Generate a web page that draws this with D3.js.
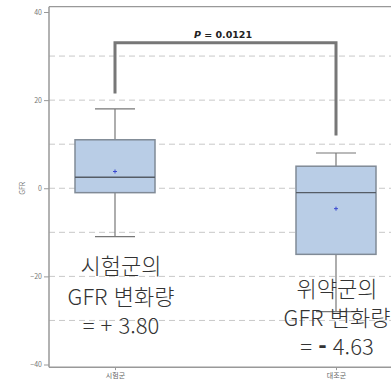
<!DOCTYPE html>
<html lang="ko">
<head>
  <meta charset="UTF-8">
  <script src="https://cdn.jsdelivr.net/npm/d3@7"></script>
  <style>
    body { margin: 0; background: #fff; }
    svg { display: block; }
    .ann { font-family: "Noto Sans CJK KR", "Noto Sans", sans-serif; font-weight: 300; fill: #333; }
    .small { font-family: "Noto Sans CJK KR", "DejaVu Sans", sans-serif; fill: #666; }
  </style>
</head>
<body>
  <svg id="chart"></svg>
  <script>
    // ---- data ----
    const groups = ["시험군", "대조군"];
    const whiskerHigh = [18, 8];
    const q3 = [11, 5];
    const medians = [2.5, -1];
    const q1 = [-1, -15];
    const whiskerLow = [-11, -28];
    const means = [3.8, -4.63];
    const yTicks = [40, 20, 0, -20, -40];
    const gridVals = [30, 20, 10, 0, -10, -20, -30];
    const annLines = [
      ["시험군의", "GFR 변화량", "= + 3.80"],
      ["위약군의", "GFR 변화량", "= - 4.63"]
    ];

    const width = 391, height = 381;
    const svg = d3.select("#chart").attr("width", width).attr("height", height);

    const left = 49, right = 400;
    const y = d3.scaleLinear().domain([-40, 40]).range([364.5, 12]);
    const x = d3.scalePoint().domain(groups).range([115, 336]);
    const boxW = 80, capW = 40;

    // gridlines
    svg.append("g").selectAll("line").data(gridVals).join("line")
      .attr("x1", left).attr("x2", right)
      .attr("y1", d => y(d)).attr("y2", d => y(d))
      .attr("stroke", "#c8c8c8").attr("stroke-width", 1)
      .attr("stroke-dasharray", "6,4");

    // frame top
    svg.append("line")
      .attr("x1", left).attr("x2", right)
      .attr("y1", y(41.2)).attr("y2", y(41.2))
      .attr("stroke", "#999").attr("stroke-width", 1.2);

    // y axis
    const yAxis = svg.append("g")
      .attr("transform", `translate(${left},0)`)
      .call(d3.axisLeft(y).tickValues(yTicks).tickSize(5).tickPadding(2));
    yAxis.select(".domain").remove();
    yAxis.selectAll(".tick line").attr("stroke", "#999");
    yAxis.selectAll("text").attr("class", "small").style("font-size", "7px").style("fill", "#777");
    svg.append("line")
      .attr("x1", left).attr("x2", left)
      .attr("y1", y(41.2)).attr("y2", y(-40.6))
      .attr("stroke", "#999").attr("stroke-width", 1.5);

    // x axis
    const xAxis = svg.append("g")
      .attr("transform", `translate(0,${y(-40.6)})`)
      .call(d3.axisBottom(x).tickSize(3).tickPadding(3));
    xAxis.select(".domain").remove();
    xAxis.selectAll(".tick line").attr("stroke", "#999");
    xAxis.selectAll("text").attr("class", "small").style("font-size", "7px").style("fill", "#666");
    svg.append("line")
      .attr("x1", left).attr("x2", right)
      .attr("y1", y(-40.6)).attr("y2", y(-40.6))
      .attr("stroke", "#999").attr("stroke-width", 1.5);

    // y label
    svg.append("text").attr("class", "small")
      .attr("transform", `translate(25,${y(0)}) rotate(-90)`)
      .attr("text-anchor", "middle")
      .style("font-size", "7px").style("fill", "#777")
      .text("GFR");

    // boxes
    const g = svg.append("g").selectAll("g").data(groups).join("g");
    g.append("line")
      .attr("x1", d => x(d)).attr("x2", d => x(d))
      .attr("y1", (d, i) => y(whiskerHigh[i])).attr("y2", (d, i) => y(q3[i]))
      .attr("stroke", "#777").attr("stroke-width", 1.2);
    g.append("line")
      .attr("x1", d => x(d)).attr("x2", d => x(d))
      .attr("y1", (d, i) => y(q1[i])).attr("y2", (d, i) => y(whiskerLow[i]))
      .attr("stroke", "#777").attr("stroke-width", 1.2);
    g.selectAll(".cap").data((d, i) => [[d, whiskerHigh[i]], [d, whiskerLow[i]]]).join("line")
      .attr("x1", d => x(d[0]) - capW / 2).attr("x2", d => x(d[0]) + capW / 2)
      .attr("y1", d => y(d[1])).attr("y2", d => y(d[1]))
      .attr("stroke", "#777").attr("stroke-width", 1.2);
    g.append("rect")
      .attr("x", d => x(d) - boxW / 2).attr("width", boxW)
      .attr("y", (d, i) => y(q3[i])).attr("height", (d, i) => y(q1[i]) - y(q3[i]))
      .attr("fill", "#b9cde6").attr("stroke", "#808a96").attr("stroke-width", 1.5);
    g.append("line")
      .attr("x1", d => x(d) - boxW / 2).attr("x2", d => x(d) + boxW / 2)
      .attr("y1", (d, i) => y(medians[i])).attr("y2", (d, i) => y(medians[i]))
      .attr("stroke", "#555c66").attr("stroke-width", 1.3);
    g.append("path")
      .attr("d", (d, i) => {
        const cx = x(d), cy = y(means[i]);
        return `M${cx - 2},${cy}H${cx + 2}M${cx},${cy - 2}V${cy + 2}`;
      })
      .attr("stroke", "#3a48d0").attr("stroke-width", 1);

    // significance bracket
    svg.append("path")
      .attr("d", `M${x(groups[0])},${y(21.5)}V${y(33)}H${x(groups[1])}V${y(12)}`)
      .attr("fill", "none").attr("stroke", "#777").attr("stroke-width", 3);
    svg.append("text")
      .attr("x", 223).attr("y", 37.5)
      .attr("text-anchor", "middle")
      .style("font-family", "'DejaVu Sans', sans-serif")
      .style("font-size", "9.5px").style("font-weight", "bold").style("fill", "#222")
      .html(`<tspan font-style="italic">P</tspan> = 0.0121`);

    // annotations
    const annX = [121, 337];
    const annY = [[274, 305, 334], [297, 326, 355]];
    annLines.forEach((lines, gi) => {
      lines.forEach((t, li) => {
        const txt = svg.append("text").attr("class", "ann")
          .attr("x", annX[gi]).attr("y", annY[gi][li])
          .attr("text-anchor", "middle")
          .style("font-size", "22px");
        if (gi === 1 && li === 2) {
          txt.append("tspan").text("= ");
          txt.append("tspan").style("font-weight", "900").text("-");
          txt.append("tspan").text(" 4.63");
        } else {
          txt.text(t);
        }
      });
    });
  </script>
</body>
</html>
